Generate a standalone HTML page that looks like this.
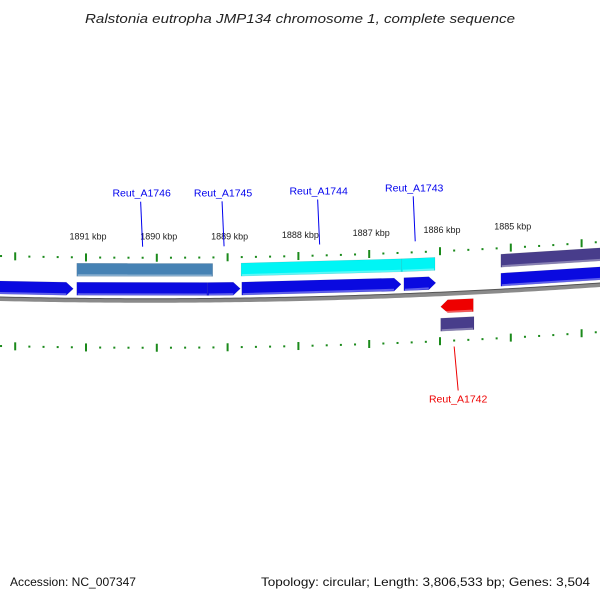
<!DOCTYPE html>
<html><head><meta charset="utf-8"><style>
html,body{margin:0;padding:0;background:#fff;}
svg{display:block;font-family:"Liberation Sans","DejaVu Sans",sans-serif;}
</style></head><body>
<svg id="map" width="600" height="600" viewBox="0 0 600 600">
<text x="85" y="23" textLength="430" lengthAdjust="spacingAndGlyphs" font-size="13" font-style="italic" fill="#222">Ralstonia eutropha JMP134 chromosome 1, complete sequence</text>
<g id="ticks"></g>
<g id="kbpLabels"></g>
<path id="backbone" fill="none" stroke="#8a8a8a" stroke-width="4"></path>
<path id="backboneTop" fill="none" stroke="#555" stroke-width="1"></path>
<g id="genes"></g>
<g id="labels"></g>
<text x="10" y="586" font-size="12" fill="#111" textLength="126" lengthAdjust="spacingAndGlyphs">Accession: NC_007347</text>
<text x="261" y="586" font-size="12" fill="#111" textLength="329" lengthAdjust="spacingAndGlyphs">Topology: circular; Length: 3,806,533 bp; Genes: 3,504</text>
</svg>
<script>
// data (kbp coordinates)
const geneStarts = [1892.4, 1891.13, 1889.28, 1888.80, 1886.51, 1885.14, 1891.13, 1888.81, 1886.54, 1885.14, 1885.99, 1885.99];
const geneEnds   = [1891.18, 1889.28, 1888.82, 1886.55, 1886.06, 1883.5, 1889.21, 1886.54, 1886.07, 1883.5, 1885.53, 1885.52];
const geneRows   = ['cds','cds','cds','cds','cds','cds','up','up','up','up','red','low'];
const geneArrow  = ['r','n','r','r','r','n','n','n','n','n','l','n'];
const geneColors = ['#0a0ae0','#0a0ae0','#0a0ae0','#0a0ae0','#0a0ae0','#0a0ae0','#4682b4','#00f5f5','#00f5f5','#483d8b','#ee0000','#483d8b'];
const labelNames = ['Reut_A1746','Reut_A1745','Reut_A1744','Reut_A1743','Reut_A1742'];
const labelKbp   = [1890.2, 1889.05, 1887.7, 1886.35, 1885.80];
const labelSide  = ['up','up','up','up','down'];
const tickLabels = ['1891 kbp','1890 kbp','1889 kbp','1888 kbp','1887 kbp','1886 kbp','1885 kbp'];
const tickLabelKbp = [1891, 1890, 1889, 1888, 1887, 1886, 1885];

const NS='http://www.w3.org/2000/svg';
const X = k => 86 + (1891 - k) * 70.8;
const Yb = x => 299 - 7.78e-5 * x * x + 0.0233 * x;
const rowOff = {cds:[-18,-5], up:[-37,-24], red:[6,19], low:[24,37]};
function mk(tag, attrs, parent){const e=document.createElementNS(NS,tag);for(const k in attrs)e.setAttribute(k,attrs[k]);parent.appendChild(e);return e;}

let d='';for(let x=-5;x<=605;x+=5){d+=(x===-5?'M':'L')+x+' '+Yb(x).toFixed(2)+' ';}
document.getElementById('backbone').setAttribute('d',d);
let d2='';for(let x=-5;x<=605;x+=5){d2+=(x===-5?'M':'L')+x+' '+(Yb(x)-2).toFixed(2)+' ';}
document.getElementById('backboneTop').setAttribute('d',d2);

const tg=document.getElementById('ticks');
for(let i=0;i<=50;i++){
  const k=1892.4-i*0.2;
  const x=X(k); if(x<-2||x>602) continue;
  const major=Math.abs(k-Math.round(k))<0.01;
  [-43,47].forEach(off=>{
    const y=Yb(x)+off;
    const r=mk('rect',{x:x-1,y:major?y-4:y-1,width:2,height:major?8:2,fill:'#1b8a1b'},tg);
    
    
  });
}
const kl=document.getElementById('kbpLabels');
tickLabels.forEach((t,i)=>{
  const x=X(tickLabelKbp[i]);
  const el=mk('text',{x:x+2,y:(Yb(x)-61).toFixed(1),'font-size':9,'text-anchor':'middle',fill:'#222'},kl);
  el.textContent=t;
  
  
});

const gg=document.getElementById('genes');
geneStarts.forEach((s,i)=>{
  const x1=X(s), x2=X(geneEnds[i]);
  const [o1,o2]=rowOff[geneRows[i]];
  const a=geneArrow[i]; const ah=7;
  const p=[];
  const y=(x,o)=>(Yb(x)+o).toFixed(1);
  if(a==='r'){
    p.push([x1,y(x1,o1)],[x2-ah,y(x2-ah,o1)],[x2,y(x2,(o1+o2)/2)],[x2-ah,y(x2-ah,o2)],[x1,y(x1,o2)]);
  } else if(a==='l'){
    p.push([x1+ah,y(x1+ah,o1)],[x2,y(x2,o1)],[x2,y(x2,o2)],[x1+ah,y(x1+ah,o2)],[x1,y(x1,(o1+o2)/2)]);
  } else {
    p.push([x1,y(x1,o1)],[x2,y(x2,o1)],[x2,y(x2,o2)],[x1,y(x1,o2)]);
  }
  const pg=mk('polygon',{points:p.map(q=>q[0].toFixed(1)+','+q[1]).join(' '),fill:geneColors[i],stroke:'rgba(0,0,0,0.15)','stroke-width':0.5},gg);
  
  
  const hl=mk('line',{x1:x1+1,y1:y(x1,o2-1),x2:x2-(a==='r'?ah:1),y2:y(x2,o2-1),stroke:'rgba(255,255,255,0.35)','stroke-width':2},gg);
  
  
});

const lg=document.getElementById('labels');
labelNames.forEach((n,i)=>{
  const x=X(labelKbp[i]);
  const up=labelSide[i]==='up';
  const col=up?'#0000ee':'#ee0000';
  const yb=Yb(x);
  let ly1,ly2,ty;
  if(up){ly1=yb-54;ly2=yb-99;ty=yb-104;} else {ly1=yb+53;ly2=yb+97;ty=yb+109;}
  const ln=mk('line',{x1:x,y1:ly1.toFixed(1),x2:x+(up?-2:4),y2:ly2.toFixed(1),stroke:col,'stroke-width':1},lg);
  
  
  const t=mk('text',{x:x+(up?-1:4),y:ty.toFixed(1),'font-size':10.5,'text-anchor':'middle',fill:col},lg);
  t.textContent=n;
  
  
});
</script>
</body></html>
